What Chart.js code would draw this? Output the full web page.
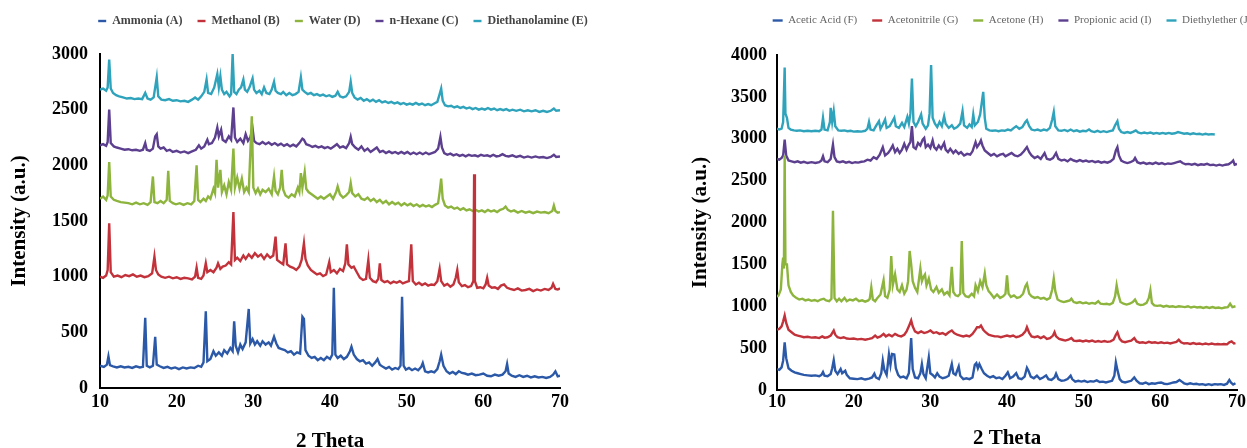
<!DOCTYPE html>
<html>
<head>
<meta charset="utf-8">
<script src="https://cdn.jsdelivr.net/npm/chart.js@4.4.1/dist/chart.umd.min.js"></script>
<style>
html,body{margin:0;padding:0;width:1247px;height:448px;overflow:hidden;background:#fff;}
#w1{position:absolute;left:0;top:0;width:686px;height:448px;}
#w2{position:absolute;left:676px;top:0;width:672px;height:448px;}
canvas{display:block;}
</style>
</head>
<body>
<div id="w1"><canvas id="c1" width="686" height="448"></canvas></div>
<div id="w2"><canvas id="c2" width="672" height="448"></canvas></div>
<script>
// ---------- categories / tick labels ----------
const leftNames = ["Ammonia (A)", "Methanol (B)", "Water (D)", "n-Hexane (C)", "Diethanolamine (E)"];
const rightNames = ["Acetic Acid (F)", "Acetonitrile (G)", "Acetone (H)", "Propionic acid (I)", "Diethylether (J)"];
const xTickValues = [10, 20, 30, 40, 50, 60, 70];
const leftYTicks = [0, 500, 1000, 1500, 2000, 2500, 3000];
const rightYTicks = [0, 500, 1000, 1500, 2000, 2500, 3000, 3500, 4000];
const xTitle = "2 Theta";
const yTitle = "Intensity (a.u.)";

// ---------- series values: [2θ, intensity] ----------
const ammonia = [[10,200],[10.5,190],[10.9,210],[11.1,285],[11.3,205],[11.7,195],[12.2,185],[12.7,195],[13.2,185],[13.7,190],[14.2,180],[14.7,195],[15.2,185],[15.6,190],[15.9,630],[16.1,200],[16.5,185],[16.9,200],[17.2,460],[17.4,210],[17.8,195],[18.3,180],[18.8,190],[19.3,175],[19.8,185],[20.3,170],[20.8,185],[21.3,175],[21.8,185],[22.3,180],[22.8,200],[23.2,190],[23.5,230],[23.8,690],[24.0,240],[24.4,260],[24.8,330],[25.1,290],[25.5,320],[25.9,290],[26.2,340],[26.6,310],[27.0,360],[27.3,330],[27.5,600],[27.7,380],[28.0,320],[28.3,390],[28.6,350],[29.0,410],[29.4,710],[29.6,400],[29.9,440],[30.2,390],[30.5,420],[30.9,380],[31.2,420],[31.6,390],[32.0,410],[32.3,380],[32.7,460],[33.0,400],[33.3,360],[33.7,350],[34.1,340],[34.5,320],[34.9,330],[35.3,300],[35.7,320],[36.1,310],[36.4,640],[36.6,620],[36.8,340],[37.2,290],[37.6,270],[38.0,280],[38.4,250],[38.8,270],[39.2,250],[39.6,280],[40.0,260],[40.3,300],[40.5,900],[40.7,300],[41.0,270],[41.4,290],[41.8,260],[42.2,280],[42.6,330],[42.8,370],[43.1,300],[43.5,260],[43.9,240],[44.3,250],[44.7,220],[45.1,230],[45.5,200],[45.9,230],[46.2,260],[46.5,210],[46.9,190],[47.3,175],[47.7,190],[48.1,165],[48.5,180],[48.9,170],[49.2,200],[49.4,820],[49.6,200],[49.9,165],[50.3,180],[50.7,160],[51.1,175],[51.5,160],[51.9,190],[52.1,225],[52.4,150],[52.8,140],[53.2,150],[53.6,140],[54.0,170],[54.3,240],[54.5,300],[54.8,200],[55.2,150],[55.6,130],[56.0,145],[56.4,125],[56.8,150],[57.2,135],[57.6,130],[58.0,120],[58.5,130],[59.0,115],[59.5,120],[60.0,130],[60.5,110],[61.0,105],[61.5,120],[62.0,110],[62.5,120],[62.9,150],[63.1,215],[63.3,130],[63.7,110],[64.2,100],[64.7,115],[65.2,100],[65.7,110],[66.2,95],[66.7,105],[67.2,95],[67.7,100],[68.2,90],[68.7,100],[69.1,120],[69.4,150],[69.7,105],[70,110]];

const methanol = [[10,1000],[10.4,990],[10.8,1010],[11.0,1060],[11.2,1480],[11.4,1040],[11.8,1000],[12.3,1010],[12.8,995],[13.3,1015],[13.8,1005],[14.3,1020],[14.8,1000],[15.3,1010],[15.8,995],[16.3,1005],[16.8,1030],[17.1,1180],[17.3,1060],[17.6,1020],[18.0,1000],[18.5,990],[19.0,1000],[19.5,985],[20.0,995],[20.5,980],[21.0,990],[21.5,985],[22.0,975],[22.4,1000],[22.6,1080],[22.8,990],[23.2,980],[23.5,1010],[23.8,1120],[24.0,1040],[24.4,1060],[24.8,1040],[25.2,1080],[25.4,1120],[25.7,1070],[26.0,1090],[26.4,1100],[26.8,1130],[27.1,1110],[27.4,1580],[27.6,1150],[27.9,1170],[28.3,1140],[28.7,1190],[29.0,1160],[29.4,1200],[29.8,1170],[30.2,1210],[30.6,1180],[31.0,1200],[31.4,1160],[31.8,1200],[32.2,1170],[32.6,1190],[32.9,1360],[33.1,1150],[33.5,1130],[33.9,1110],[34.2,1300],[34.4,1110],[34.8,1090],[35.2,1080],[35.6,1060],[36.0,1090],[36.3,1150],[36.6,1300],[36.8,1160],[37.1,1100],[37.5,1060],[37.9,1040],[38.3,1020],[38.7,1030],[39.1,1005],[39.5,1020],[39.9,1130],[40.1,1040],[40.5,1060],[40.9,1030],[41.3,1070],[41.7,1050],[42.0,1120],[42.2,1290],[42.4,1110],[42.8,1080],[43.1,1090],[43.5,1040],[43.9,990],[44.3,970],[44.7,980],[45.0,1150],[45.2,990],[45.6,960],[46.0,950],[46.3,980],[46.5,1120],[46.7,970],[47.1,950],[47.5,960],[47.9,940],[48.3,955],[48.7,945],[49.1,960],[49.5,940],[49.9,950],[50.3,960],[50.6,1290],[50.8,960],[51.2,930],[51.6,945],[52.0,925],[52.4,940],[52.8,920],[53.2,930],[53.6,925],[54.0,960],[54.3,1070],[54.5,960],[54.9,920],[55.3,935],[55.7,910],[56.1,930],[56.4,990],[56.6,1060],[56.8,950],[57.2,915],[57.6,925],[58.0,905],[58.4,915],[58.7,960],[58.8,1920],[58.9,960],[59.2,900],[59.6,905],[60.0,895],[60.3,930],[60.5,990],[60.7,920],[61.1,900],[61.5,905],[61.9,890],[62.3,920],[62.7,930],[63.1,900],[63.5,890],[64.0,880],[64.5,895],[65.0,875],[65.5,880],[66.0,890],[66.5,870],[67.0,885],[67.5,875],[68.0,890],[68.5,880],[68.9,900],[69.1,935],[69.4,890],[69.7,885],[70,895]];

const water = [[10,1700],[10.4,1720],[10.8,1690],[11.0,1730],[11.2,2030],[11.4,1720],[11.8,1690],[12.2,1680],[12.7,1670],[13.2,1665],[13.7,1660],[14.2,1650],[14.7,1665],[15.2,1650],[15.7,1660],[16.2,1645],[16.6,1670],[16.9,1900],[17.1,1670],[17.5,1660],[17.9,1680],[18.3,1660],[18.7,1690],[18.9,1950],[19.1,1680],[19.5,1660],[19.9,1650],[20.4,1660],[20.9,1645],[21.4,1660],[21.9,1650],[22.3,1680],[22.6,2000],[22.8,1690],[23.1,1670],[23.5,1700],[23.8,1680],[24.1,1720],[24.4,1700],[24.8,1790],[25.0,1750],[25.2,2050],[25.4,1800],[25.7,1960],[25.9,1760],[26.2,1820],[26.5,1740],[26.8,1850],[27.1,1780],[27.4,2150],[27.6,1800],[27.9,1890],[28.2,1790],[28.5,1880],[28.8,1760],[29.1,1800],[29.4,1760],[29.8,2440],[30.0,1800],[30.3,1750],[30.6,1790],[30.9,1740],[31.2,1780],[31.6,1760],[32.0,1790],[32.4,1740],[32.7,1900],[32.9,1770],[33.2,1740],[33.5,1800],[33.7,1960],[33.9,1780],[34.2,1730],[34.6,1710],[35.0,1740],[35.4,1720],[35.8,1800],[36.0,1760],[36.2,1930],[36.4,1800],[36.7,1940],[36.9,1790],[37.2,1760],[37.6,1740],[38.0,1720],[38.4,1700],[38.8,1720],[39.2,1700],[39.6,1720],[40.0,1740],[40.4,1700],[40.8,1760],[41.0,1810],[41.3,1740],[41.7,1710],[42.1,1730],[42.5,1760],[42.7,1840],[42.9,1750],[43.3,1720],[43.7,1740],[44.1,1700],[44.5,1690],[44.9,1710],[45.3,1680],[45.7,1700],[46.1,1670],[46.5,1690],[46.9,1660],[47.3,1680],[47.7,1650],[48.1,1670],[48.5,1650],[48.9,1665],[49.3,1640],[49.7,1660],[50.1,1640],[50.5,1655],[50.9,1635],[51.3,1650],[51.7,1630],[52.1,1645],[52.5,1630],[52.9,1640],[53.3,1625],[53.7,1645],[54.1,1660],[54.3,1760],[54.5,1880],[54.7,1700],[55.0,1640],[55.4,1620],[55.8,1630],[56.2,1610],[56.6,1620],[57.0,1600],[57.4,1615],[57.8,1595],[58.2,1605],[58.6,1590],[59.0,1600],[59.4,1585],[59.8,1595],[60.2,1580],[60.6,1600],[61.0,1585],[61.4,1595],[61.8,1580],[62.2,1600],[62.6,1610],[62.9,1630],[63.2,1600],[63.6,1585],[64.0,1595],[64.5,1575],[65.0,1590],[65.5,1575],[66.0,1585],[66.5,1570],[67.0,1585],[67.5,1575],[68.0,1580],[68.5,1570],[69.0,1590],[69.2,1640],[69.4,1590],[69.7,1575],[70,1580]];

const hexane = [[10,2180],[10.4,2190],[10.8,2175],[11.0,2210],[11.2,2500],[11.4,2200],[11.8,2170],[12.2,2160],[12.7,2150],[13.2,2140],[13.7,2145],[14.2,2135],[14.7,2140],[15.2,2130],[15.6,2140],[15.9,2200],[16.1,2140],[16.5,2130],[16.9,2150],[17.2,2260],[17.4,2280],[17.6,2170],[17.9,2150],[18.3,2160],[18.7,2130],[19.1,2140],[19.5,2120],[20.0,2130],[20.5,2115],[21.0,2125],[21.5,2110],[22.0,2125],[22.5,2140],[22.9,2180],[23.2,2150],[23.6,2170],[24.0,2230],[24.2,2190],[24.6,2200],[25.0,2250],[25.3,2340],[25.5,2260],[25.8,2320],[26.0,2230],[26.4,2210],[26.8,2260],[27.1,2230],[27.4,2520],[27.6,2250],[27.9,2210],[28.3,2240],[28.7,2200],[29.0,2280],[29.3,2220],[29.6,2250],[29.9,2330],[30.1,2220],[30.4,2200],[30.8,2190],[31.2,2210],[31.6,2190],[32.0,2205],[32.4,2185],[32.8,2200],[33.2,2180],[33.6,2195],[34.0,2175],[34.4,2190],[34.8,2170],[35.2,2185],[35.6,2170],[36.0,2200],[36.4,2240],[36.6,2230],[36.9,2190],[37.3,2180],[37.7,2165],[38.1,2175],[38.5,2160],[38.9,2170],[39.3,2155],[39.7,2165],[40.1,2150],[40.5,2170],[40.9,2190],[41.3,2160],[41.7,2170],[42.1,2155],[42.5,2200],[42.7,2255],[42.9,2190],[43.3,2160],[43.7,2140],[44.1,2170],[44.5,2130],[44.9,2150],[45.3,2120],[45.7,2140],[46.1,2160],[46.5,2120],[46.9,2130],[47.3,2110],[47.7,2125],[48.1,2110],[48.5,2120],[48.9,2105],[49.3,2120],[49.7,2105],[50.1,2120],[50.5,2100],[50.9,2115],[51.3,2100],[51.7,2115],[52.1,2100],[52.5,2115],[52.9,2100],[53.3,2110],[53.7,2120],[54.1,2150],[54.4,2255],[54.6,2160],[54.9,2110],[55.3,2095],[55.7,2105],[56.1,2090],[56.5,2100],[56.9,2085],[57.3,2095],[57.7,2080],[58.1,2095],[58.5,2085],[58.9,2090],[59.3,2080],[59.7,2095],[60.1,2085],[60.5,2090],[60.9,2080],[61.3,2095],[61.7,2080],[62.1,2085],[62.5,2100],[62.9,2085],[63.3,2080],[63.8,2090],[64.3,2075],[64.8,2085],[65.3,2070],[65.8,2080],[66.3,2070],[66.8,2080],[67.3,2070],[67.8,2075],[68.3,2065],[68.8,2075],[69.2,2095],[69.5,2075],[70,2080]];

const diethanolamine = [[10,2680],[10.4,2690],[10.8,2670],[11.0,2700],[11.2,2950],[11.4,2690],[11.7,2650],[12.1,2630],[12.5,2620],[13.0,2610],[13.5,2600],[14.0,2605],[14.5,2595],[15.0,2600],[15.5,2595],[15.9,2650],[16.2,2600],[16.6,2590],[17.0,2610],[17.4,2790],[17.6,2620],[18.0,2590],[18.5,2585],[19.0,2595],[19.5,2580],[20.0,2585],[20.5,2575],[21.0,2580],[21.5,2570],[22.0,2590],[22.4,2610],[22.8,2590],[23.2,2620],[23.6,2660],[23.9,2770],[24.1,2650],[24.5,2640],[24.9,2700],[25.3,2820],[25.5,2700],[25.7,2800],[25.9,2680],[26.2,2640],[26.5,2660],[26.9,2620],[27.1,2640],[27.3,3000],[27.5,2660],[27.8,2640],[28.1,2680],[28.4,2700],[28.7,2770],[28.9,2680],[29.2,2660],[29.5,2700],[29.9,2780],[30.1,2680],[30.4,2650],[30.8,2670],[31.1,2640],[31.4,2700],[31.7,2650],[32.1,2640],[32.4,2680],[32.7,2750],[32.9,2670],[33.2,2650],[33.6,2640],[33.9,2660],[34.3,2630],[34.7,2650],[35.1,2630],[35.5,2640],[35.9,2660],[36.2,2790],[36.4,2680],[36.7,2660],[37.1,2640],[37.5,2650],[37.9,2630],[38.3,2640],[38.7,2625],[39.1,2635],[39.5,2620],[39.9,2630],[40.3,2615],[40.7,2625],[41.0,2660],[41.3,2620],[41.7,2610],[42.1,2620],[42.5,2660],[42.7,2750],[42.9,2650],[43.2,2610],[43.6,2590],[44.0,2605],[44.4,2580],[44.8,2595],[45.2,2575],[45.6,2590],[46.0,2570],[46.4,2585],[46.8,2565],[47.2,2575],[47.6,2560],[48.0,2570],[48.4,2555],[48.8,2565],[49.2,2550],[49.6,2560],[50.0,2545],[50.4,2555],[50.8,2545],[51.2,2560],[51.6,2545],[52.0,2555],[52.4,2540],[52.8,2550],[53.2,2540],[53.6,2555],[54.0,2570],[54.3,2640],[54.5,2690],[54.7,2580],[55.0,2540],[55.4,2530],[55.8,2535],[56.2,2520],[56.6,2530],[57.0,2515],[57.4,2525],[57.8,2510],[58.2,2520],[58.6,2505],[59.0,2515],[59.4,2500],[59.8,2510],[60.2,2500],[60.6,2515],[61.0,2500],[61.4,2510],[61.8,2495],[62.2,2505],[62.6,2495],[63.0,2505],[63.4,2490],[63.8,2500],[64.3,2490],[64.8,2500],[65.3,2485],[65.8,2495],[66.3,2485],[66.8,2495],[67.3,2480],[67.8,2490],[68.3,2480],[68.8,2490],[69.2,2510],[69.5,2490],[70,2495]];

const aceticAcid = [[10,250],[10.3,240],[10.6,270],[10.8,350],[11.0,570],[11.2,380],[11.5,260],[11.9,230],[12.3,210],[12.7,200],[13.1,190],[13.5,180],[14.0,175],[14.5,170],[15.0,175],[15.5,165],[15.8,180],[16.0,215],[16.2,170],[16.6,165],[17.0,190],[17.2,260],[17.4,355],[17.6,230],[17.9,190],[18.3,250],[18.5,200],[18.9,230],[19.1,180],[19.5,140],[20.0,135],[20.5,130],[21.0,140],[21.5,125],[22.0,135],[22.4,150],[22.7,195],[22.9,150],[23.3,130],[23.6,200],[23.8,350],[24.0,240],[24.3,180],[24.6,425],[24.8,300],[25.0,430],[25.3,425],[25.5,260],[25.8,180],[26.1,150],[26.5,160],[26.9,140],[27.2,200],[27.5,620],[27.7,250],[28.0,150],[28.4,140],[28.7,200],[28.9,310],[29.1,190],[29.4,140],[29.8,390],[30.0,200],[30.3,180],[30.6,150],[30.9,200],[31.2,160],[31.6,140],[32.0,150],[32.4,170],[32.8,310],[33.0,200],[33.3,180],[33.7,280],[33.9,170],[34.3,130],[34.7,140],[35.1,130],[35.5,150],[35.8,300],[36.0,320],[36.2,260],[36.4,310],[36.7,250],[37.0,200],[37.4,170],[37.8,150],[38.2,165],[38.6,140],[39.0,150],[39.4,130],[39.8,170],[40.1,210],[40.4,140],[40.8,160],[41.2,200],[41.5,140],[41.9,130],[42.3,160],[42.6,265],[42.8,230],[43.1,160],[43.5,140],[43.9,170],[44.3,130],[44.7,150],[45.1,175],[45.4,130],[45.8,120],[46.2,150],[46.4,195],[46.7,130],[47.1,110],[47.5,115],[47.9,130],[48.3,170],[48.5,130],[48.9,100],[49.3,110],[49.7,100],[50.1,110],[50.5,95],[50.9,105],[51.3,100],[51.7,115],[52.1,95],[52.5,100],[52.9,90],[53.3,100],[53.7,110],[54.0,170],[54.2,330],[54.4,240],[54.7,130],[55.0,100],[55.4,90],[55.8,100],[56.2,110],[56.6,150],[56.9,110],[57.3,80],[57.7,75],[58.1,90],[58.5,70],[58.9,80],[59.3,75],[59.7,85],[60.1,90],[60.5,75],[60.9,70],[61.3,80],[61.7,90],[62.1,95],[62.5,120],[62.8,100],[63.1,80],[63.5,70],[63.9,80],[64.3,70],[64.7,75],[65.1,65],[65.5,70],[65.9,60],[66.3,70],[66.7,60],[67.1,70],[67.5,65],[67.9,70],[68.3,60],[68.7,75],[69.0,120],[69.2,90],[69.5,65],[69.8,80]];

const acetonitrile = [[10,720],[10.3,730],[10.6,760],[10.8,820],[11.0,890],[11.2,800],[11.5,720],[11.9,690],[12.3,660],[12.7,650],[13.1,640],[13.5,630],[14.0,635],[14.5,625],[15.0,630],[15.5,620],[15.9,640],[16.2,625],[16.6,630],[17.0,650],[17.4,710],[17.6,660],[17.9,630],[18.3,620],[18.7,630],[19.1,615],[19.5,610],[20.0,615],[20.5,605],[21.0,610],[21.5,600],[22.0,610],[22.4,620],[22.8,650],[23.1,625],[23.5,640],[23.9,670],[24.2,640],[24.6,660],[25.0,640],[25.4,670],[25.8,650],[26.2,640],[26.6,660],[26.9,700],[27.2,760],[27.5,830],[27.7,760],[28.0,700],[28.4,680],[28.8,700],[29.2,680],[29.6,690],[30.0,710],[30.4,680],[30.8,690],[31.2,670],[31.6,680],[32.0,660],[32.4,690],[32.8,710],[33.1,680],[33.5,660],[33.9,650],[34.3,640],[34.7,650],[35.1,640],[35.5,670],[35.9,720],[36.1,750],[36.4,750],[36.6,770],[36.9,720],[37.2,690],[37.6,660],[38.0,650],[38.4,640],[38.8,640],[39.2,630],[39.6,640],[40.0,650],[40.4,640],[40.8,650],[41.2,630],[41.6,640],[42.0,660],[42.4,700],[42.6,750],[42.9,680],[43.2,640],[43.6,630],[44.0,640],[44.4,620],[44.8,640],[45.2,610],[45.6,620],[46.0,650],[46.2,690],[46.4,640],[46.8,610],[47.2,600],[47.6,590],[48.0,600],[48.4,620],[48.7,590],[49.1,585],[49.5,590],[49.9,580],[50.3,590],[50.7,580],[51.1,590],[51.5,575],[51.9,585],[52.3,575],[52.7,585],[53.1,575],[53.5,580],[53.9,600],[54.2,660],[54.4,690],[54.7,610],[55.0,580],[55.4,570],[55.8,580],[56.2,590],[56.6,620],[56.9,580],[57.3,565],[57.7,570],[58.1,560],[58.5,575],[58.9,565],[59.3,570],[59.7,560],[60.1,570],[60.5,560],[60.9,565],[61.3,555],[61.7,565],[62.1,575],[62.4,600],[62.7,570],[63.1,555],[63.5,560],[63.9,550],[64.3,560],[64.7,550],[65.1,555],[65.5,545],[65.9,555],[66.3,545],[66.7,555],[67.1,545],[67.5,550],[67.9,545],[68.3,550],[68.7,545],[69.0,570],[69.3,580],[69.6,555],[69.8,560]];

const acetone = [[10,1110],[10.2,1130],[10.5,1200],[10.7,1500],[10.8,1580],[10.9,1450],[11.0,2800],[11.1,1500],[11.3,1500],[11.5,1250],[11.8,1170],[12.1,1130],[12.5,1100],[12.9,1080],[13.3,1090],[13.7,1070],[14.1,1080],[14.5,1065],[14.9,1075],[15.3,1060],[15.7,1080],[16.1,1090],[16.4,1070],[16.8,1060],[17.1,1090],[17.3,2140],[17.5,1100],[17.8,1060],[18.1,1090],[18.4,1060],[18.8,1100],[19.1,1060],[19.5,1080],[19.9,1070],[20.3,1090],[20.7,1060],[21.1,1070],[21.5,1055],[21.9,1070],[22.1,1090],[22.3,1225],[22.5,1080],[22.8,1060],[23.1,1100],[23.5,1140],[23.9,1310],[24.1,1120],[24.4,1100],[24.7,1200],[24.9,1600],[25.1,1250],[25.4,1380],[25.7,1200],[26.0,1170],[26.3,1250],[26.6,1150],[26.9,1200],[27.1,1300],[27.3,1660],[27.5,1500],[27.7,1300],[28.0,1220],[28.3,1170],[28.7,1450],[28.9,1300],[29.1,1350],[29.3,1380],[29.5,1250],[29.8,1330],[30.1,1200],[30.4,1170],[30.8,1230],[31.1,1160],[31.5,1200],[31.8,1140],[32.2,1170],[32.5,1130],[32.8,1470],[33.0,1170],[33.3,1130],[33.6,1120],[33.9,1150],[34.1,1780],[34.3,1160],[34.6,1120],[35.0,1110],[35.4,1150],[35.7,1120],[35.9,1250],[36.2,1180],[36.5,1300],[36.8,1230],[37.1,1390],[37.3,1250],[37.6,1180],[37.9,1150],[38.3,1100],[38.7,1140],[39.1,1100],[39.5,1120],[39.8,1150],[40.0,1370],[40.2,1150],[40.5,1110],[40.9,1130],[41.3,1100],[41.7,1110],[42.1,1150],[42.4,1240],[42.6,1270],[42.9,1150],[43.2,1120],[43.6,1100],[44.0,1110],[44.4,1090],[44.8,1100],[45.2,1080],[45.6,1100],[45.9,1200],[46.1,1330],[46.3,1180],[46.6,1080],[47.0,1060],[47.4,1050],[47.8,1060],[48.2,1070],[48.4,1090],[48.7,1050],[49.1,1040],[49.5,1050],[49.9,1035],[50.3,1045],[50.7,1030],[51.1,1040],[51.5,1030],[51.9,1060],[52.2,1030],[52.6,1025],[53.0,1030],[53.4,1020],[53.8,1040],[54.1,1120],[54.3,1250],[54.5,1150],[54.8,1050],[55.2,1030],[55.6,1020],[56.0,1030],[56.4,1050],[56.7,1080],[57.0,1030],[57.4,1015],[57.8,1020],[58.2,1040],[58.5,1100],[58.7,1190],[58.9,1040],[59.2,1010],[59.6,1005],[60.0,1010],[60.4,995],[60.8,1005],[61.2,995],[61.6,1000],[62.0,990],[62.4,1000],[62.8,995],[63.2,990],[63.6,1000],[64.0,985],[64.4,995],[64.8,985],[65.2,990],[65.6,980],[66.0,990],[66.4,980],[66.8,990],[67.2,980],[67.6,985],[68.0,975],[68.4,985],[68.8,990],[69.1,1030],[69.4,990],[69.8,1000]];

const propionicAcid = [[10,2760],[10.3,2750],[10.6,2770],[10.8,2800],[11.0,2990],[11.2,2800],[11.5,2740],[11.9,2730],[12.3,2720],[12.7,2730],[13.1,2715],[13.5,2725],[14.0,2710],[14.5,2720],[15.0,2710],[15.5,2720],[15.8,2740],[16.0,2790],[16.2,2730],[16.6,2720],[17.0,2760],[17.3,2930],[17.5,2780],[17.8,2730],[18.2,2720],[18.6,2730],[19.0,2715],[19.4,2725],[19.8,2710],[20.2,2720],[20.6,2715],[21.0,2725],[21.4,2730],[21.8,2750],[22.2,2740],[22.6,2780],[23.0,2760],[23.4,2810],[23.8,2900],[24.1,2800],[24.5,2830],[24.8,2870],[25.1,2920],[25.4,2840],[25.7,2880],[26.0,2830],[26.3,2870],[26.6,2940],[26.9,2870],[27.2,2930],[27.4,2960],[27.6,3150],[27.8,2900],[28.1,2880],[28.4,2950],[28.7,2920],[29.0,2990],[29.2,3010],[29.4,2900],[29.7,2930],[30.0,2890],[30.3,2980],[30.5,2900],[30.8,2870],[31.1,2920],[31.4,2880],[31.8,2950],[32.0,2870],[32.3,2840],[32.6,2880],[33.0,2830],[33.3,2860],[33.7,2820],[34.0,2840],[34.4,2800],[34.8,2820],[35.2,2810],[35.5,2850],[35.9,2960],[36.1,2900],[36.4,2940],[36.6,2980],[36.8,2920],[37.1,2860],[37.5,2830],[37.9,2800],[38.3,2820],[38.7,2790],[39.1,2810],[39.5,2820],[39.8,2790],[40.2,2810],[40.6,2830],[41.0,2800],[41.4,2790],[41.8,2810],[42.2,2850],[42.6,2900],[42.9,2840],[43.2,2800],[43.6,2770],[44.0,2790],[44.4,2760],[44.9,2830],[45.2,2760],[45.6,2750],[46.0,2770],[46.4,2830],[46.7,2760],[47.1,2740],[47.5,2750],[47.9,2730],[48.3,2760],[48.7,2740],[49.1,2730],[49.5,2745],[49.9,2730],[50.3,2740],[50.7,2725],[51.1,2735],[51.5,2720],[51.9,2730],[52.3,2715],[52.7,2725],[53.1,2715],[53.5,2730],[53.9,2760],[54.2,2860],[54.4,2900],[54.6,2800],[54.9,2740],[55.3,2720],[55.7,2710],[56.1,2720],[56.5,2740],[56.7,2770],[57.0,2720],[57.4,2705],[57.8,2715],[58.2,2700],[58.6,2710],[59.0,2700],[59.4,2715],[59.8,2700],[60.2,2710],[60.6,2695],[61.0,2705],[61.4,2700],[61.8,2710],[62.2,2720],[62.6,2730],[62.9,2710],[63.3,2695],[63.7,2700],[64.1,2690],[64.5,2700],[64.9,2685],[65.3,2695],[65.7,2690],[66.1,2700],[66.5,2685],[66.9,2690],[67.3,2680],[67.7,2690],[68.1,2680],[68.5,2690],[68.9,2695],[69.3,2720],[69.5,2740],[69.7,2690],[70,2700]];

const diethylether = [[10,3120],[10.3,3110],[10.6,3120],[10.8,3200],[11.0,3850],[11.1,3300],[11.3,3250],[11.5,3130],[11.8,3110],[12.2,3100],[12.6,3095],[13.0,3100],[13.5,3090],[14.0,3095],[14.5,3090],[15.0,3095],[15.5,3090],[15.8,3110],[16.0,3250],[16.2,3110],[16.6,3100],[16.9,3200],[17.0,3370],[17.2,3200],[17.4,3330],[17.6,3150],[18.0,3100],[18.4,3095],[18.8,3100],[19.2,3090],[19.6,3095],[20.0,3085],[20.5,3090],[21.0,3085],[21.5,3095],[21.8,3120],[22.0,3200],[22.2,3110],[22.6,3100],[22.9,3150],[23.3,3210],[23.5,3120],[23.8,3170],[24.1,3230],[24.3,3130],[24.7,3150],[25.0,3200],[25.3,3250],[25.5,3150],[25.9,3130],[26.3,3190],[26.6,3140],[27.0,3260],[27.2,3180],[27.4,3300],[27.6,3720],[27.8,3200],[28.1,3150],[28.4,3200],[28.8,3290],[29.0,3180],[29.4,3120],[29.7,3160],[29.9,3300],[30.1,3880],[30.3,3250],[30.6,3180],[30.9,3140],[31.2,3200],[31.5,3150],[31.8,3270],[32.0,3180],[32.4,3130],[32.8,3160],[33.1,3120],[33.5,3140],[33.9,3180],[34.2,3330],[34.4,3160],[34.8,3130],[35.1,3170],[35.4,3140],[35.6,3290],[35.8,3160],[36.2,3200],[36.5,3290],[36.9,3560],[37.1,3250],[37.3,3120],[37.7,3100],[38.1,3095],[38.5,3100],[38.9,3090],[39.3,3100],[39.7,3095],[40.1,3110],[40.5,3100],[40.9,3130],[41.2,3150],[41.6,3120],[42.0,3140],[42.4,3200],[42.6,3220],[42.9,3150],[43.2,3110],[43.6,3100],[44.0,3110],[44.4,3095],[44.8,3110],[45.2,3100],[45.6,3130],[45.9,3230],[46.1,3320],[46.3,3150],[46.7,3100],[47.1,3095],[47.5,3105],[47.9,3090],[48.3,3110],[48.7,3090],[49.1,3100],[49.5,3085],[49.9,3095],[50.3,3090],[50.7,3110],[51.0,3090],[51.4,3080],[51.8,3095],[52.2,3080],[52.6,3090],[53.0,3080],[53.4,3090],[53.8,3100],[54.1,3160],[54.4,3210],[54.6,3120],[54.9,3080],[55.3,3070],[55.7,3080],[56.1,3070],[56.5,3085],[56.8,3100],[57.1,3075],[57.5,3065],[57.9,3075],[58.3,3065],[58.7,3075],[59.1,3060],[59.5,3070],[59.9,3060],[60.3,3070],[60.7,3060],[61.1,3070],[61.5,3060],[61.9,3065],[62.3,3080],[62.7,3070],[63.1,3060],[63.5,3065],[63.9,3055],[64.3,3065],[64.7,3055],[65.1,3060],[65.5,3050],[65.9,3060],[66.3,3050],[66.7,3055],[67.1,3050]];

// ---------- styles ----------
const lineColors = ["#2b59a8", "#c2323a", "#8db43c", "#5c3f8e", "#2ea3bb"];
const FONT = '"Liberation Serif", "Times New Roman", serif';

function makeDatasets(names, series) {
  return names.map((n, i) => ({
    label: n,
    data: series[i].map(p => ({x: p[0], y: p[1]})),
    borderColor: lineColors[i],
    backgroundColor: lineColors[i],
    borderWidth: 2.4,
    pointRadius: 0,
    pointHoverRadius: 0,
    tension: 0,
    fill: false
  }));
}

function makeOptions(o) {
  return {
    responsive: false,
    animation: false,
    devicePixelRatio: 1,
    layout: {padding: 0},
    plugins: {
      legend: {
        display: true, position: 'top',
        labels: {
          usePointStyle: true, pointStyle: 'line', pointStyleWidth: o.legendBox,
          padding: 15, color: o.legendColor,
          font: {family: FONT, size: o.legendSize, weight: o.legendWeight}
        }
      },
      title: {display: true, text: ' ', weight: 500, padding: {top: o.gapTop, bottom: 0}, font: {size: 10, lineHeight: 1}},
      tooltip: {enabled: false}
    },
    scales: {
      x: {
        type: 'linear', min: 10, max: 70,
        afterBuildTicks: s => { s.ticks = xTickValues.map(v => ({value: v})); },
        grid: {display: false, drawTicks: false},
        border: {display: true, color: '#000', width: 2},
        ticks: {color: '#000', padding: o.xTickPad, maxRotation: 0, autoSkip: false, callback: v => String(v), font: {family: FONT, size: 18, weight: 'bold'}},
        title: {display: true, text: xTitle, color: '#000', font: {family: FONT, size: 21, weight: 'bold'}, padding: {top: 0, bottom: o.xTitlePad}},
        afterFit: s => { s.height = o.xAxisHeight; }
      },
      y: {
        type: 'linear', position: 'left', min: 0, max: o.yMax,
        afterBuildTicks: s => { s.ticks = o.yTicks.map(v => ({value: v})); },
        grid: {display: false, drawTicks: false},
        border: {display: true, color: '#000', width: 2},
        ticks: {color: '#000', padding: o.yTickPad, autoSkip: false, callback: v => String(v), font: {family: FONT, size: 18, weight: 'bold'}},
        title: {display: true, text: yTitle, color: '#000', font: {family: FONT, size: 21, weight: 'bold'}, padding: {top: o.yTitlePad, bottom: 0}},
        afterFit: s => { s.width = o.yAxisWidth; }
      },
      yR: {
        type: 'linear', position: 'right', display: true,
        grid: {display: false, drawTicks: false},
        border: {display: false},
        ticks: {display: false},
        afterFit: s => { s.width = o.rightGap; }
      }
    }
  };
}

new Chart(document.getElementById('c1'), {
  type: 'line',
  data: {datasets: makeDatasets(leftNames, [ammonia, methanol, water, hexane, diethanolamine])},
  options: makeOptions({
    legendColor: '#444', legendWeight: 'bold', legendSize: 12, legendBox: 8, gapTop: 7,
    xTickPad: 4, xTitlePad: -6, xAxisHeight: 60,
    yMax: 3000, yTicks: leftYTicks, yTickPad: 12, yTitlePad: 7, yAxisWidth: 100,
    rightGap: 126
  })
});

new Chart(document.getElementById('c2'), {
  type: 'line',
  data: {datasets: makeDatasets(rightNames, [aceticAcid, acetonitrile, acetone, propionicAcid, diethylether])},
  options: makeOptions({
    legendColor: '#666', legendWeight: 'normal', legendSize: 11, legendBox: 10, gapTop: 9,
    xTickPad: 2, xTitlePad: -3, xAxisHeight: 58,
    yMax: 4000, yTicks: rightYTicks, yTickPad: 10, yTitlePad: 12, yAxisWidth: 101,
    rightGap: 111
  })
});
</script>
</body>
</html>
